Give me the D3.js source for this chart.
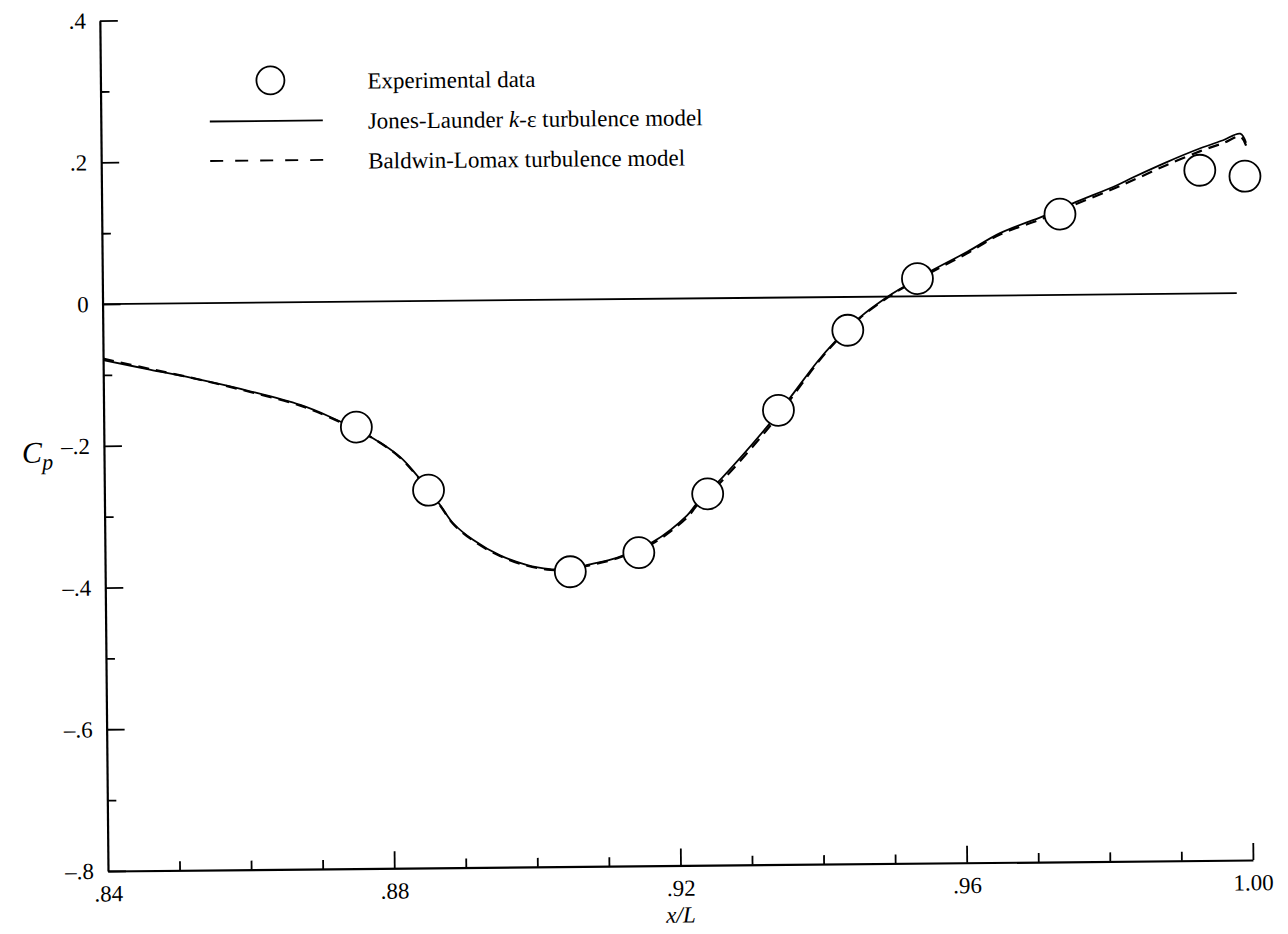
<!DOCTYPE html>
<html>
<head>
<meta charset="utf-8">
<script src="https://cdn.jsdelivr.net/npm/d3@7"></script>
<style>
  body { margin: 0; background: #fff; }
  text { font-family: "Liberation Serif", "Times New Roman", serif; fill: #000; }
</style>
</head>
<body>
<svg id="chart" width="1288" height="934"></svg>
<script>
// ---- axis ticks ----
const xMajorTicks = [0.84, 0.88, 0.92, 0.96, 1.00];
const xMinorTicks = [0.85, 0.86, 0.87, 0.89, 0.90, 0.91, 0.93, 0.94, 0.95, 0.97, 0.98, 0.99];
const xTickLabels = [".84", ".88", ".92", ".96", "1.00"];
const yMajorTicks = [-0.8, -0.6, -0.4, -0.2, 0, 0.2, 0.4];
const yMinorTicks = [-0.7, -0.5, -0.3, -0.1, 0.1, 0.3];
const yTickLabels = ["\u2013.8", "\u2013.6", "\u2013.4", "\u2013.2", "0", ".2", ".4"];

// ---- experimental data (circles) ----
const expX = [0.8753, 0.8853, 0.9050, 0.9146, 0.9243, 0.9343, 0.9441, 0.9539, 0.9739, 0.9935, 0.9998];
const expCp = [-0.177, -0.267, -0.384, -0.358, -0.276, -0.159, -0.047, 0.025, 0.114, 0.174, 0.165];

// ---- Jones-Launder k-epsilon model (solid) ----
const jlX = [0.8400, 0.8465, 0.8535, 0.8605, 0.8675, 0.8716, 0.8776, 0.8814, 0.8837, 0.8869,
             0.8887, 0.8915, 0.8952, 0.8990, 0.9022, 0.9050, 0.9073, 0.9115, 0.9166, 0.9214,
             0.9228, 0.9263, 0.9327, 0.9359, 0.9398, 0.9423, 0.9458, 0.9496, 0.9517, 0.9561,
             0.9609, 0.9655, 0.9715, 0.9757, 0.9819, 0.9842, 0.9889, 0.9936, 0.9968, 0.9992, 1.0000];
const jlCp = [-0.079, -0.093, -0.108, -0.125, -0.145, -0.162, -0.193, -0.220, -0.246, -0.288,
              -0.314, -0.338, -0.360, -0.374, -0.380, -0.382, -0.375, -0.365, -0.343, -0.306,
              -0.289, -0.254, -0.182, -0.142, -0.091, -0.063, -0.029, -0.001, 0.012, 0.037,
              0.062, 0.088, 0.111, 0.129, 0.154, 0.165, 0.186, 0.205, 0.216, 0.225, 0.212];

// ---- Baldwin-Lomax model (dashed) ----
const blX = [0.8400, 0.8465, 0.8535, 0.8605, 0.8675, 0.8716, 0.8776, 0.8814, 0.8837, 0.8869,
             0.8887, 0.8915, 0.8952, 0.8990, 0.9022, 0.9050, 0.9073, 0.9115, 0.9166, 0.9214,
             0.9228, 0.9263, 0.9327, 0.9359, 0.9398, 0.9423, 0.9458, 0.9496, 0.9517, 0.9561,
             0.9609, 0.9655, 0.9715, 0.9757, 0.9819, 0.9842, 0.9889, 0.9936, 0.9968, 0.9992, 1.0000];
const blCp = [-0.077, -0.092, -0.108, -0.126, -0.146, -0.163, -0.193, -0.221, -0.247, -0.289,
              -0.315, -0.339, -0.361, -0.375, -0.381, -0.382, -0.376, -0.366, -0.345, -0.309,
              -0.292, -0.258, -0.186, -0.145, -0.093, -0.064, -0.030, -0.002, 0.011, 0.035,
              0.060, 0.086, 0.108, 0.126, 0.151, 0.161, 0.182, 0.201, 0.212, 0.221, 0.208];

const legendLabels = ["Experimental data", "Jones-Launder ", "Baldwin-Lomax turbulence model"];

// ---- layout ----
const svg = d3.select("#chart");
svg.append("rect").attr("width", 1288).attr("height", 934).attr("fill", "#fff");

const x0 = 108, y0 = 871;
const x = d3.scaleLinear().domain([0.84, 1.00]).range([x0, 1253]);
const y = d3.scaleLinear().domain([-0.8, 0.4]).range([y0, 20.6]);

// the whole sheet sits at a slight tilt
const g = svg.append("g").attr("transform", `rotate(-0.55, ${x0}, ${y0})`);

const fmtY = d => yTickLabels[yMajorTicks.findIndex(v => Math.abs(v - d) < 1e-9)];
const fmtX = d => xTickLabels[xMajorTicks.findIndex(v => Math.abs(v - d) < 1e-9)];

// Y axis: major (labelled) and minor ticks, pointing inward
const yMajor = g.append("g").attr("transform", `translate(${x0},0)`)
  .call(d3.axisLeft(y).tickValues(yMajorTicks).tickFormat(fmtY).tickSizeInner(-18).tickSizeOuter(0).tickPadding(14));
const yMinor = g.append("g").attr("transform", `translate(${x0},0)`)
  .call(d3.axisLeft(y).tickValues(yMinorTicks).tickFormat("").tickSizeInner(-9).tickSizeOuter(0));
yMinor.select(".domain").remove();

// X axis
const xMajor = g.append("g").attr("transform", `translate(0,${y0})`)
  .call(d3.axisBottom(x).tickValues(xMajorTicks).tickFormat(fmtX).tickSizeInner(-17).tickSizeOuter(0).tickPadding(14));
const xMinor = g.append("g").attr("transform", `translate(0,${y0})`)
  .call(d3.axisBottom(x).tickValues(xMinorTicks).tickFormat("").tickSizeInner(-9).tickSizeOuter(0));
xMinor.select(".domain").remove();
// no tick drawn at the corner
xMajor.selectAll(".tick").filter(d => d === 0.84).select("line").remove();

[yMajor, yMinor, xMajor, xMinor].forEach(a => {
  a.selectAll(".domain").attr("stroke", "#000").attr("stroke-width", 2.2);
  a.selectAll(".tick line").attr("stroke", "#000").attr("stroke-width", 1.8);
  a.selectAll(".tick text").attr("font-size", 23).attr("font-family", "Liberation Serif, serif").attr("fill", "#000");
});

// zero reference line
g.append("line")
  .attr("x1", x(0.84)).attr("x2", x(0.9985))
  .attr("y1", y(0)).attr("y2", y(0))
  .attr("stroke", "#000").attr("stroke-width", 1.8);

// model curves
const line = d3.line().x(d => x(d[0])).y(d => y(d[1])).curve(d3.curveCatmullRom.alpha(0.5));
g.append("path").datum(blX.map((v, i) => [v, blCp[i]]))
  .attr("d", line).attr("fill", "none").attr("stroke", "#000")
  .attr("stroke-width", 2.2).attr("stroke-dasharray", "11,7");
g.append("path").datum(jlX.map((v, i) => [v, jlCp[i]]))
  .attr("d", line).attr("fill", "none").attr("stroke", "#000").attr("stroke-width", 1.8);

// experimental circles
g.selectAll("circle.exp").data(expX.map((v, i) => [v, expCp[i]])).join("circle")
  .attr("class", "exp")
  .attr("cx", d => x(d[0])).attr("cy", d => y(d[1])).attr("r", 15.5)
  .attr("fill", "#fff").attr("stroke", "#000").attr("stroke-width", 1.8);

// axis titles
const cp = g.append("text").attr("x", 26).attr("y", 462).attr("font-size", 30).attr("font-style", "italic");
cp.append("tspan").text("C");
cp.append("tspan").attr("font-size", 22).attr("dy", 7).text("p");

g.append("text").attr("x", x(0.92)).attr("y", 928).attr("text-anchor", "middle")
  .attr("font-size", 23).attr("font-style", "italic").text("x/L");

// legend
const lg = g.append("g");
lg.append("circle").attr("cx", 278).attr("cy", 82).attr("r", 14)
  .attr("fill", "#fff").attr("stroke", "#000").attr("stroke-width", 1.8);
lg.append("line").attr("x1", 217).attr("x2", 330).attr("y1", 122.5).attr("y2", 122.5)
  .attr("stroke", "#000").attr("stroke-width", 1.8);
lg.append("line").attr("x1", 217).attr("x2", 330).attr("y1", 162).attr("y2", 162)
  .attr("stroke", "#000").attr("stroke-width", 1.8).attr("stroke-dasharray", "13,12");

lg.append("text").attr("x", 375).attr("y", 91).attr("font-size", 23).text(legendLabels[0]);
const t2 = lg.append("text").attr("x", 375).attr("y", 131).attr("font-size", 23);
t2.append("tspan").text(legendLabels[1]);
t2.append("tspan").attr("font-style", "italic").text("k");
t2.append("tspan").text("-\u03b5 turbulence model");
lg.append("text").attr("x", 375).attr("y", 171).attr("font-size", 23).text(legendLabels[2]);
</script>
</body>
</html>
